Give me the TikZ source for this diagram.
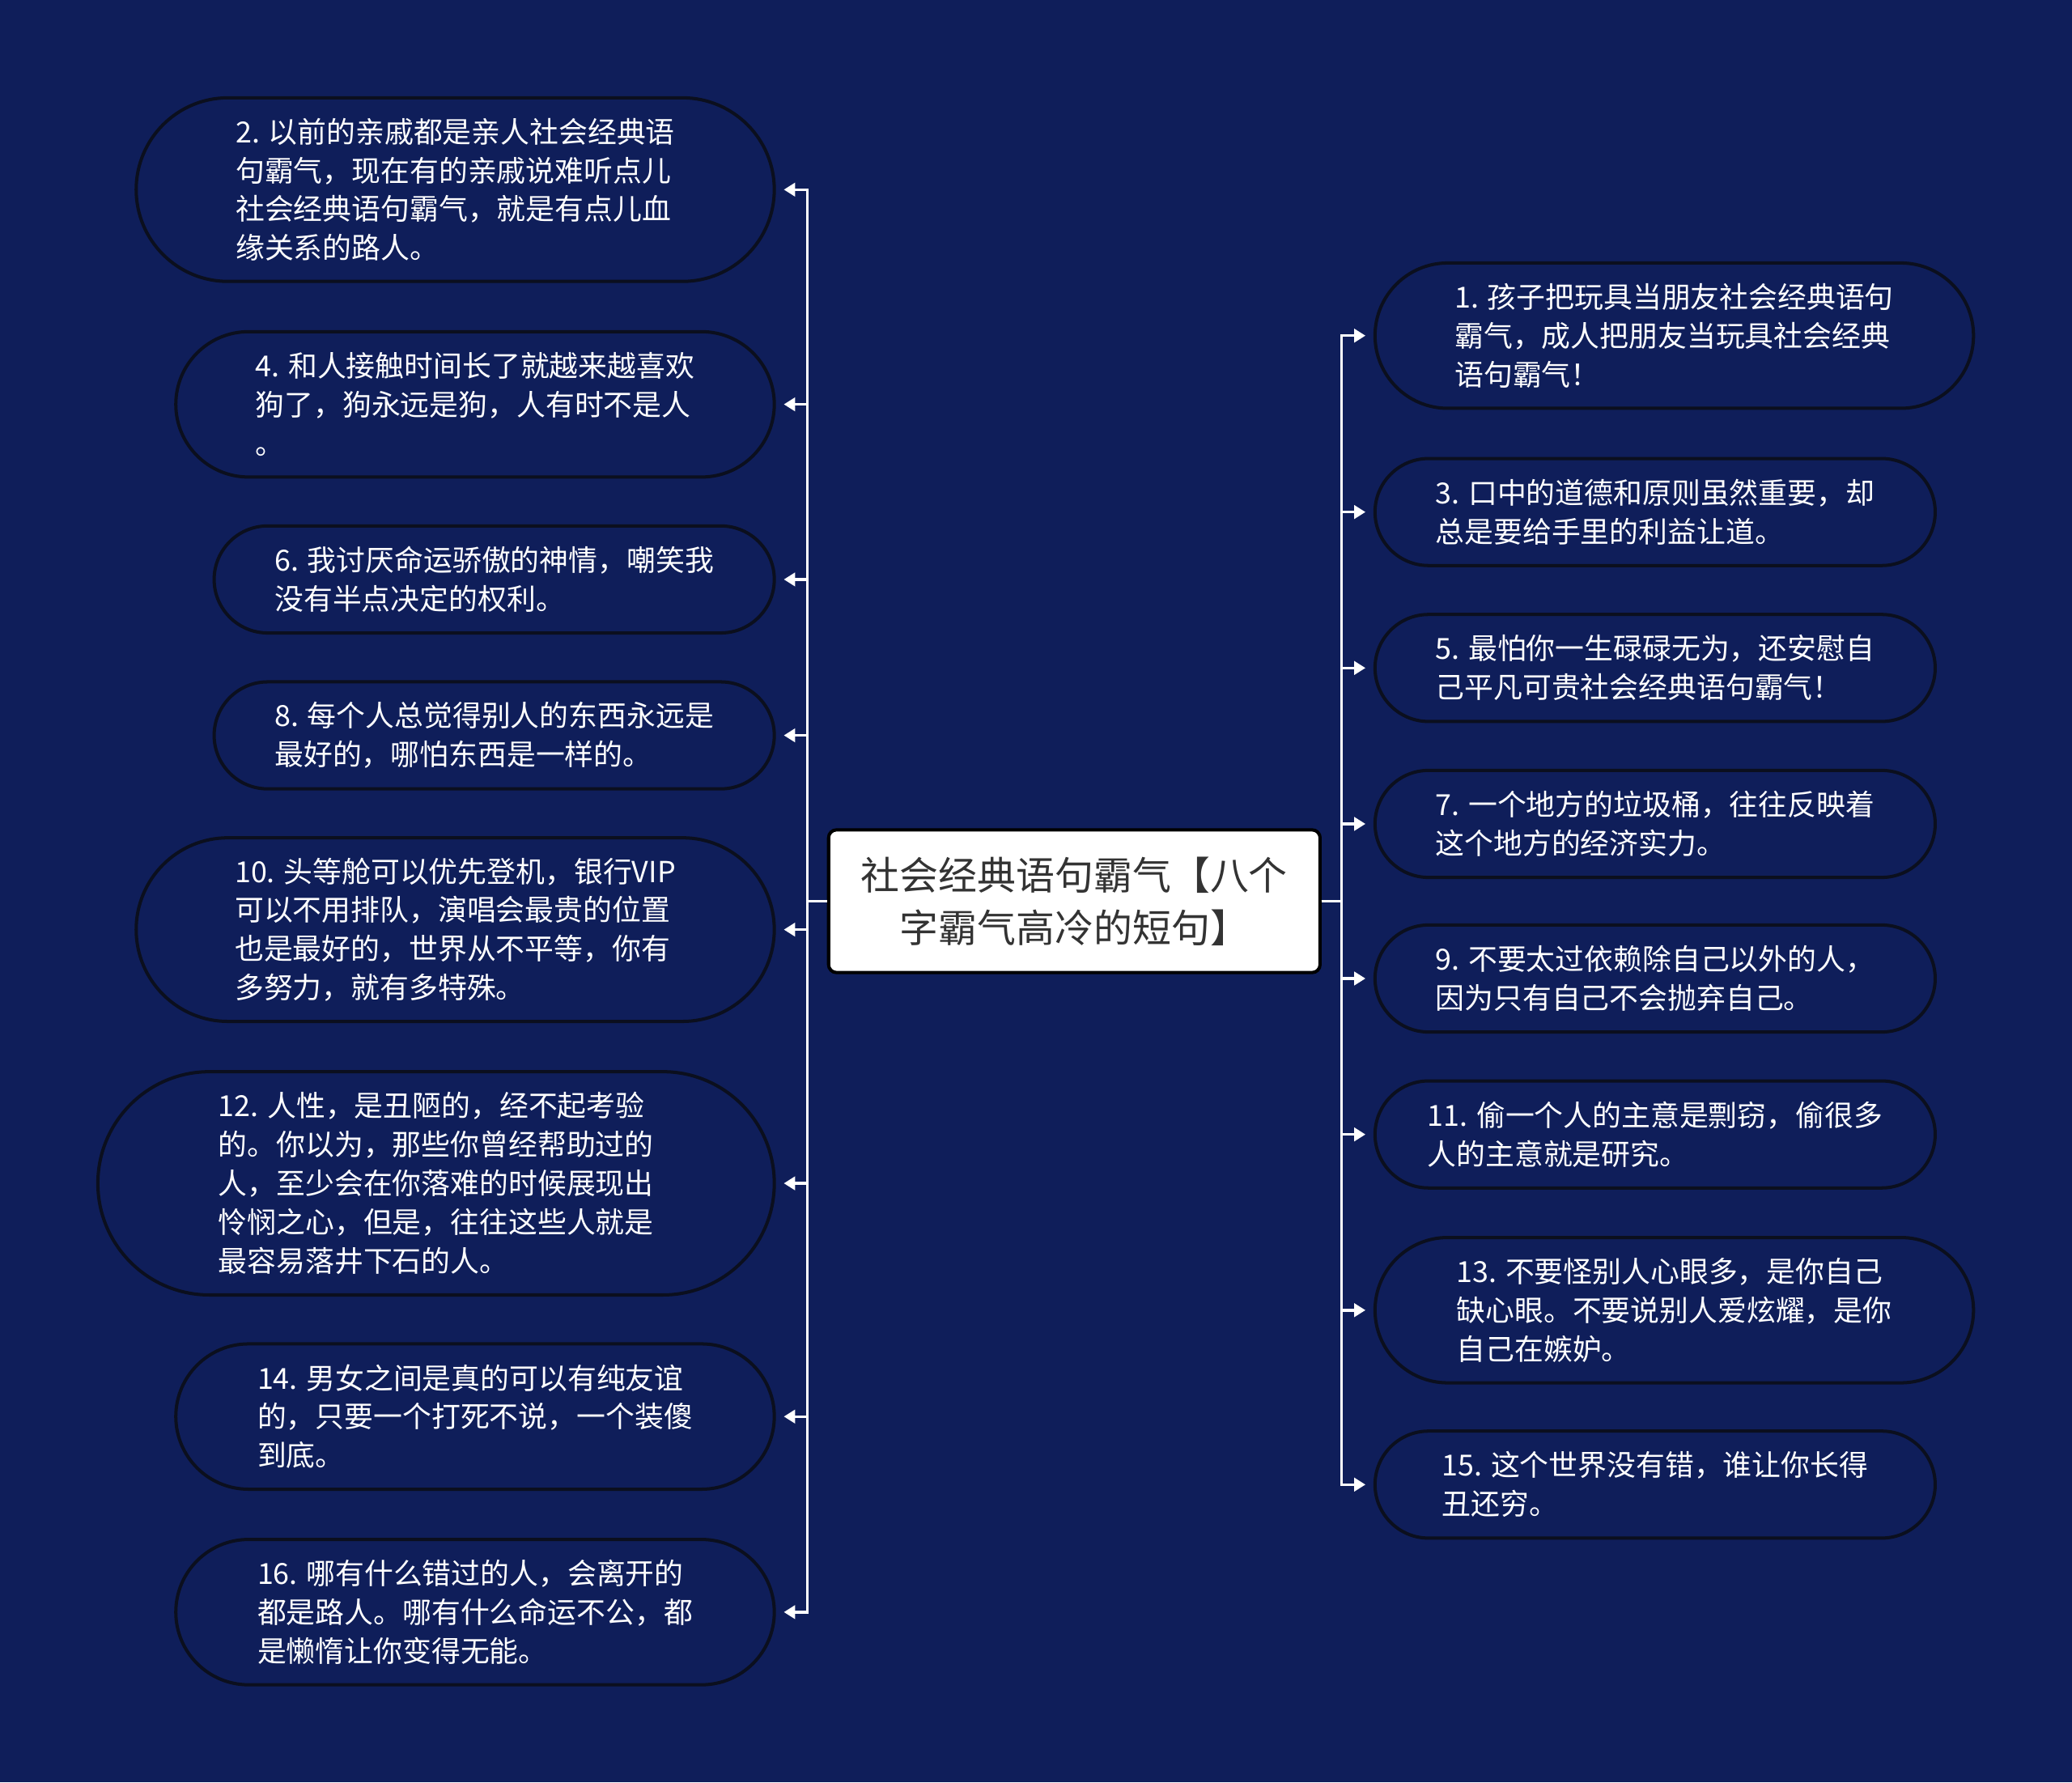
\documentclass[tikz,border=0pt]{standalone}
\usepackage{fontspec}
\setmainfont{Noto Sans CJK SC}
\usepackage{xcolor}
\usepackage{tikz}
\usetikzlibrary{arrows.meta}

\definecolor{navy}{HTML}{0F1E5A}
\definecolor{rimc}{HTML}{0B0F1E}
\definecolor{inkc}{HTML}{333333}

\begin{document}
\begin{tikzpicture}[
  x=0.02cm, y=-0.02cm,
  >={Triangle[length=1.7mm, width=2.0mm]},
  leaf/.style={draw=rimc, line width=1.4pt, fill=navy, text=white, align=left,
               inner sep=0pt, font=\fontsize{12.5pt}{16.7pt}\selectfont},
  two/.style={leaf, minimum width=8.48cm, minimum height=1.62cm, rounded corners=0.81cm},
  three/.style={leaf, minimum width=9.06cm, minimum height=2.2cm, rounded corners=1.1cm},
  four/.style={leaf, minimum width=9.66cm, minimum height=2.78cm, rounded corners=1.39cm},
  five/.style={leaf, minimum width=10.24cm, minimum height=3.38cm, rounded corners=1.69cm},
  topic/.style={draw=black, line width=1.4pt, fill=white, text=inkc, align=center,
                rounded corners=0.12cm, minimum width=7.44cm, minimum height=2.16cm,
                font=\fontsize{16.7pt}{22.7pt}\selectfont},
  arr/.style={->, line width=1.2pt, draw=white, shorten >=0.12cm},
]

% background / page size
\fill[navy] (0,0) rectangle (1568,1349);

% ============ NODES ============

% Central topic
\node[topic] (root) at (813,682) {社会经典语句霸气【八个\\字霸气高冷的短句】};

% Left column (even numbers)
\node[four]  (n2)  at (344.5,143.5) {2. 以前的亲戚都是亲人社会经典语\\句霸气，现在有的亲戚说难听点儿\\社会经典语句霸气，就是有点儿血\\缘关系的路人。};
\node[three] (n4)  at (359.5,306)   {4. 和人接触时间长了就越来越喜欢\\狗了，狗永远是狗，人有时不是人\\。};
\node[two]   (n6)  at (374,438.5)   {6. 我讨厌命运骄傲的神情，嘲笑我\\没有半点决定的权利。};
\node[two]   (n8)  at (374,556.5)   {8. 每个人总觉得别人的东西永远是\\最好的，哪怕东西是一样的。};
\node[four]  (n10) at (344.5,703.5) {10. 头等舱可以优先登机，银行VIP\\可以不用排队，演唱会最贵的位置\\也是最好的，世界从不平等，你有\\多努力，就有多特殊。};
\node[five]  (n12) at (330,895.5)   {12. 人性，是丑陋的，经不起考验\\的。你以为，那些你曾经帮助过的\\人，至少会在你落难的时候展现出\\怜悯之心，但是，往往这些人就是\\最容易落井下石的人。};
\node[three] (n14) at (359.5,1072)  {14. 男女之间是真的可以有纯友谊\\的，只要一个打死不说，一个装傻\\到底。};
\node[three] (n16) at (359.5,1220)  {16. 哪有什么错过的人，会离开的\\都是路人。哪有什么命运不公，都\\是懒惰让你变得无能。};

% Right column (odd numbers)
\node[three] (n1)  at (1267,254)    {1. 孩子把玩具当朋友社会经典语句\\霸气，成人把朋友当玩具社会经典\\语句霸气！};
\node[two]   (n3)  at (1252.5,387.5) {3. 口中的道德和原则虽然重要，却\\总是要给手里的利益让道。};
\node[two]   (n5)  at (1252.5,505.5) {5. 最怕你一生碌碌无为，还安慰自\\己平凡可贵社会经典语句霸气！};
\node[two]   (n7)  at (1252.5,623.5) {7. 一个地方的垃圾桶，往往反映着\\这个地方的经济实力。};
\node[two]   (n9)  at (1252.5,740.5) {9. 不要太过依赖除自己以外的人，\\因为只有自己不会抛弃自己。};
\node[two]   (n11) at (1252.5,858.5) {11. 偷一个人的主意是剽窃，偷很多\\人的主意就是研究。};
\node[three] (n13) at (1267,991.5)   {13. 不要怪别人心眼多，是你自己\\缺心眼。不要说别人爱炫耀，是你\\自己在嫉妒。};
\node[two]   (n15) at (1252.5,1123.5) {15. 这个世界没有错，谁让你长得\\丑还穷。};

% ============ ARROWS ============

% root -> left column
\draw[arr] (root.west) -- ++(-15,0) |- (n2.east);
\draw[arr] (root.west) -- ++(-15,0) |- (n4.east);
\draw[arr] (root.west) -- ++(-15,0) |- (n6.east);
\draw[arr] (root.west) -- ++(-15,0) |- (n8.east);
\draw[arr] (root.west) -- ++(-15,0) |- (n10.east);
\draw[arr] (root.west) -- ++(-15,0) |- (n12.east);
\draw[arr] (root.west) -- ++(-15,0) |- (n14.east);
\draw[arr] (root.west) -- ++(-15,0) |- (n16.east);

% root -> right column
\draw[arr] (root.east) -- ++(15,0) |- (n1.west);
\draw[arr] (root.east) -- ++(15,0) |- (n3.west);
\draw[arr] (root.east) -- ++(15,0) |- (n5.west);
\draw[arr] (root.east) -- ++(15,0) |- (n7.west);
\draw[arr] (root.east) -- ++(15,0) |- (n9.west);
\draw[arr] (root.east) -- ++(15,0) |- (n11.west);
\draw[arr] (root.east) -- ++(15,0) |- (n13.west);
\draw[arr] (root.east) -- ++(15,0) |- (n15.west);

\end{tikzpicture}
\end{document}
